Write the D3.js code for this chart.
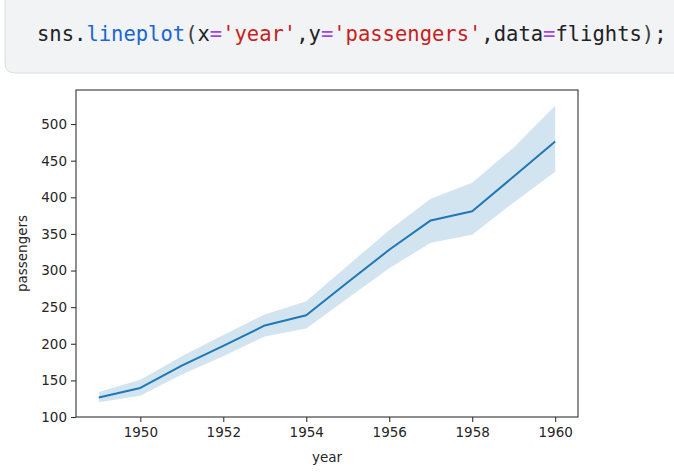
<!DOCTYPE html>
<meta charset="utf-8">
<script src="https://d3js.org/d3.v7.min.js"></script>
<style>
  body { margin: 0; background: #fff; }
  svg text { font-family: "DejaVu Sans", sans-serif; }
  .code { font-family: "DejaVu Sans Mono", monospace; font-size: 20.5px; }
</style>
<svg id="chart" width="674" height="472"></svg>
<script>
// data: yearly mean of flights passengers with the 95% band
var years = [1949, 1950, 1951, 1952, 1953, 1954, 1955, 1956, 1957, 1958, 1959, 1960];
var meanPassengers = [126.7, 139.7, 170.2, 197.0, 225.0, 238.9, 284.0, 328.3, 368.4, 381.0, 428.3, 476.2];
var ciLow = [120, 129, 158, 183, 210, 221, 262, 303, 338, 349, 393, 435];
var ciHigh = [134, 151, 183, 212, 240, 258, 307, 355, 398, 420, 468, 525];
var xTicks = [1950, 1952, 1954, 1956, 1958, 1960];
var yTicks = [100, 150, 200, 250, 300, 350, 400, 450, 500];

// code cell tokens
var codeTokens = [
  ["sns.", "#202124"], ["lineplot", "#1967d2"], ["(", "#3c4043"], ["x", "#202124"], ["=", "#a142f4"],
  ["'year'", "#c5221f"], [",", "#202124"], ["y", "#202124"], ["=", "#a142f4"], ["'passengers'", "#c5221f"],
  [",", "#202124"], ["data", "#202124"], ["=", "#a142f4"], ["flights", "#202124"], [")", "#3c4043"], [";", "#202124"]
];

var svg = d3.select("#chart");

// code cell box
svg.append("path")
  .attr("d", "M5,-5 L5,63 Q5,73 15,73 L680,73 L680,-5 Z")
  .attr("fill", "#f1f3f4")
  .attr("stroke", "#dadce0")
  .attr("stroke-width", 1);

var code = svg.append("text").attr("class", "code").attr("x", 37).attr("y", 41);
codeTokens.forEach(function(t) {
  code.append("tspan").attr("fill", t[1]).text(t[0]);
});

// plot area
var pLeft = 76, pRight = 578, pTop = 90, pBottom = 417;

var x = d3.scaleLinear().domain([1948.45, 1960.55]).range([pLeft, pRight]);
var y = d3.scaleLinear().domain([100, 546.5]).range([pBottom, pTop]);

var rows = years.map(function(yr, i) {
  return { year: yr, mean: meanPassengers[i], lo: ciLow[i], hi: ciHigh[i] };
});

svg.append("path")
  .datum(rows)
  .attr("fill", "#1f77b4")
  .attr("fill-opacity", 0.2)
  .attr("d", d3.area()
    .x(function(d) { return x(d.year); })
    .y0(function(d) { return y(d.lo); })
    .y1(function(d) { return y(d.hi); }));

svg.append("path")
  .datum(rows)
  .attr("fill", "none")
  .attr("stroke", "#1f77b4")
  .attr("stroke-width", 2)
  .attr("stroke-linejoin", "round")
  .attr("d", d3.line()
    .x(function(d) { return x(d.year); })
    .y(function(d) { return y(d.mean); }));

// axes
var xAxis = svg.append("g")
  .attr("transform", "translate(0," + pBottom + ")")
  .call(d3.axisBottom(x).tickValues(xTicks).tickFormat(d3.format("d")).tickSize(5).tickPadding(5));

var yAxis = svg.append("g")
  .attr("transform", "translate(" + pLeft + ",0)")
  .call(d3.axisLeft(y).tickValues(yTicks).tickSize(5).tickPadding(4));

[xAxis, yAxis].forEach(function(a) {
  a.select(".domain").remove();
  a.selectAll("line").attr("stroke", "#333").attr("stroke-width", 1.1);
  a.selectAll("text").attr("fill", "#262626").style("font-size", "13.5px").style("font-family", "DejaVu Sans, sans-serif");
});

// frame
svg.append("rect")
  .attr("x", pLeft).attr("y", pTop)
  .attr("width", pRight - pLeft).attr("height", pBottom - pTop)
  .attr("fill", "none")
  .attr("stroke", "#333")
  .attr("stroke-width", 1.1);

// labels
svg.append("text")
  .attr("x", (pLeft + pRight) / 2).attr("y", 462)
  .attr("text-anchor", "middle")
  .attr("fill", "#262626")
  .style("font-size", "13.5px")
  .text("year");

svg.append("text")
  .attr("transform", "translate(27," + (pTop + pBottom) / 2 + ") rotate(-90)")
  .attr("text-anchor", "middle")
  .attr("fill", "#262626")
  .style("font-size", "13.5px")
  .text("passengers");
</script>
